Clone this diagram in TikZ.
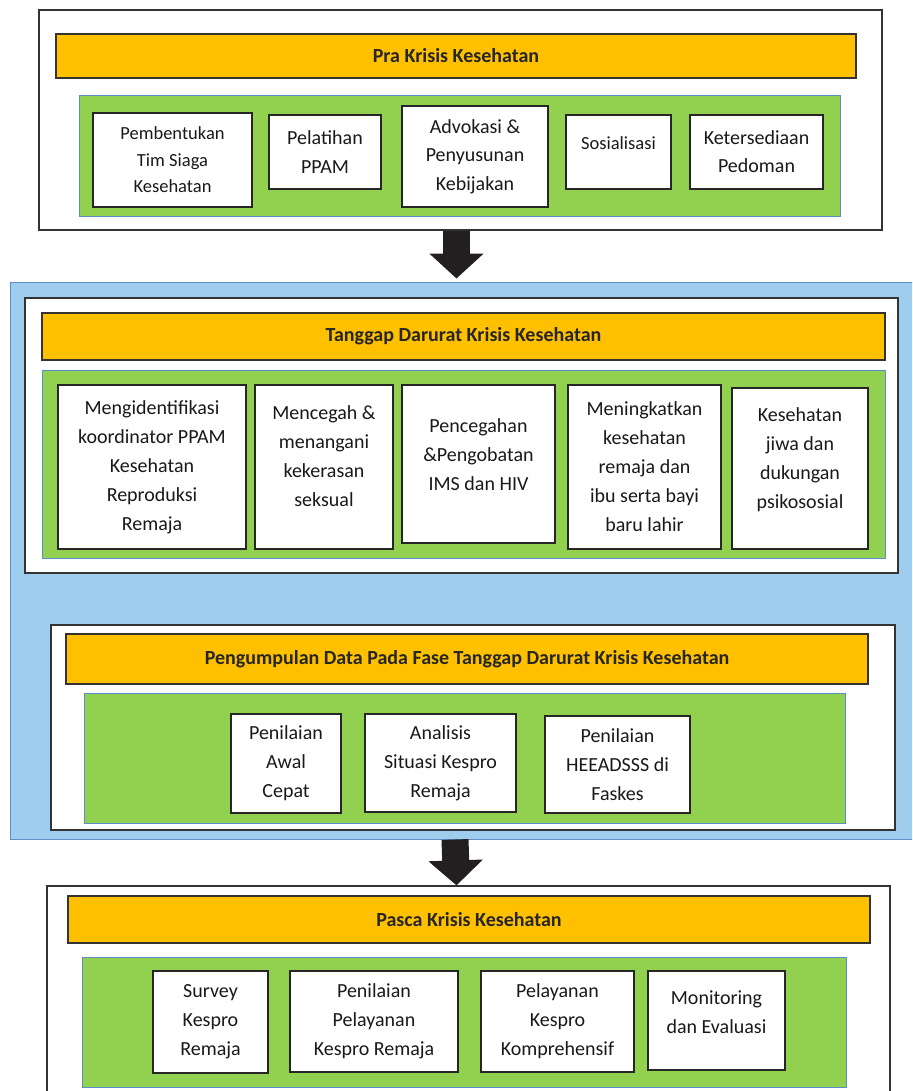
\documentclass[tikz,border=0pt]{standalone}
\usepackage{fontspec}
\setmainfont{Carlito}
\usetikzlibrary{arrows.meta}

\definecolor{krisisorange}{HTML}{FFC000}
\definecolor{krisisgreen}{HTML}{92D050}
\definecolor{krisisblue}{HTML}{9FCDEE}
\definecolor{blueedge}{HTML}{5E8FC4}
\definecolor{greenedge}{HTML}{5B8DC8}
\definecolor{arrowdark}{HTML}{231F20}

\tikzset{
  phase/.style={draw=black!80, fill=white, line width=1.2pt, inner sep=0pt},
  phasebar/.style={draw=black!80, fill=krisisorange, line width=1.2pt, inner sep=0pt,
    font=\fontsize{20}{24}\selectfont\bfseries, text=black!85},
  actbg/.style={draw=greenedge, fill=krisisgreen, line width=0.9pt, inner sep=0pt},
  act/.style={draw=black!85, fill=white, line width=1.4pt, align=center, inner sep=2pt,
    font=\fontsize{20}{29}\selectfont, text=black!90},
  flow/.style={arrowdark, line width=27pt, -{Triangle[width=53pt,length=25pt]}},
}

\begin{document}
\begin{tikzpicture}[x=1pt,y=-1pt]
    \useasboundingbox (0,0) rectangle (912,1091);
    \clip (0,0) rectangle (912,1091);

    % pra krisis
    \node[phase, minimum width=843, minimum height=220] (pra) at (460.5,120) {};
    \node[phasebar, minimum width=800, minimum height=44] (prabar) at (456,56) {Pra Krisis Kesehatan};
    \node[actbg, minimum width=761, minimum height=121] (praact) at (459.5,155.5) {};
    \node[act, minimum width=159, minimum height=94, font=\fontsize{18.5}{26.5}\selectfont] (pembentukan) at (172.5,160) {Pembentukan\\Tim Siaga\\Kesehatan};
    \node[act, minimum width=112, minimum height=74] (pelatihan) at (325,152) {Pelatihan\\PPAM};
    \node[act, minimum width=146, minimum height=101, font=\fontsize{20}{28.5}\selectfont] (advokasi) at (475,156.5) {Advokasi \&\\Penyusunan\\Kebijakan};
    \node[act, minimum width=105, minimum height=74, font=\fontsize{18.5}{26}\selectfont, text depth=18pt] (sosialisasi) at (618.5,152) {Sosialisasi};
    \node[act, minimum width=133, minimum height=74, font=\fontsize{20}{28}\selectfont] (ketersediaan) at (756.5,152) {Ketersediaan\\Pedoman};

    % tanggap darurat
    \node[draw=blueedge, fill=krisisblue, line width=1pt, inner sep=0pt, minimum width=905, minimum height=557] (darurat) at (462.5,560.5) {};
    \node[phase, minimum width=873, minimum height=275] (tanggap) at (461.5,435.5) {};
    \node[phasebar, minimum width=843, minimum height=47] (tanggapbar) at (463.5,336.5) {Tanggap Darurat Krisis Kesehatan};
    \node[actbg, minimum width=843, minimum height=188] (tanggapact) at (463.5,464) {};
    \node[act, minimum width=188, minimum height=164] (koordinator) at (152,467) {Mengidentifikasi\\koordinator PPAM\\Kesehatan\\Reproduksi\\Remaja};
    \node[act, minimum width=138, minimum height=164, text depth=22pt] (mencegah) at (324,467) {Mencegah \&\\menangani\\kekerasan\\seksual};
    \node[act, minimum width=153, minimum height=158, text depth=18pt] (ims) at (478.5,464) {Pencegahan\\\&Pengobatan\\IMS dan HIV};
    \node[act, minimum width=153, minimum height=164] (remaja) at (644.5,467) {Meningkatkan\\kesehatan\\remaja dan\\ibu serta bayi\\baru lahir};
    \node[act, minimum width=136, minimum height=161, text depth=20pt] (jiwa) at (800,468.5) {Kesehatan\\jiwa dan\\dukungan\\psikososial};

    % pengumpulan data
    \node[phase, minimum width=844, minimum height=205] (data) at (473,727.5) {};
    \node[phasebar, minimum width=802, minimum height=50] (databar) at (467,659) {Pengumpulan Data Pada Fase Tanggap Darurat Krisis Kesehatan};
    \node[actbg, minimum width=761, minimum height=130] (dataact) at (464.5,758) {};
    \node[act, minimum width=110, minimum height=99] (awal) at (286,763.5) {Penilaian\\Awal\\Cepat};
    \node[act, minimum width=151, minimum height=98] (situasi) at (440.5,763) {Analisis\\Situasi Kespro\\Remaja};
    \node[act, minimum width=145, minimum height=97] (heeadsss) at (617.5,764.5) {Penilaian\\HEEADSSS di\\Faskes};

    % pasca krisis
    \node[phase, minimum width=843, minimum height=214] (pasca) at (468.5,993) {};
    \node[phasebar, minimum width=802, minimum height=47] (pascabar) at (469,919.5) {Pasca Krisis Kesehatan};
    \node[actbg, minimum width=764, minimum height=130] (pascaact) at (464,1022) {};
    \node[act, minimum width=115, minimum height=102] (survey) at (210.5,1022) {Survey\\Kespro\\Remaja};
    \node[act, minimum width=168, minimum height=101] (penilaian) at (374,1021.5) {Penilaian\\Pelayanan\\Kespro Remaja};
    \node[act, minimum width=153, minimum height=101] (komprehensif) at (557.5,1021.5) {Pelayanan\\Kespro\\Komprehensif};
    \node[act, minimum width=137, minimum height=99, text depth=16pt] (monitoring) at (716.5,1020.5) {Monitoring\\dan Evaluasi};

    % arrows between phases
    \draw[flow] ([xshift=-4pt]pra.south) -- ([xshift=-4pt,yshift=3pt]pra.south |- darurat.north);
    \draw[flow] ([xshift=-5.5pt]darurat.south -| pra.south) -- ([xshift=-4pt]pra.south |- pasca.north);
\end{tikzpicture}
\end{document}
